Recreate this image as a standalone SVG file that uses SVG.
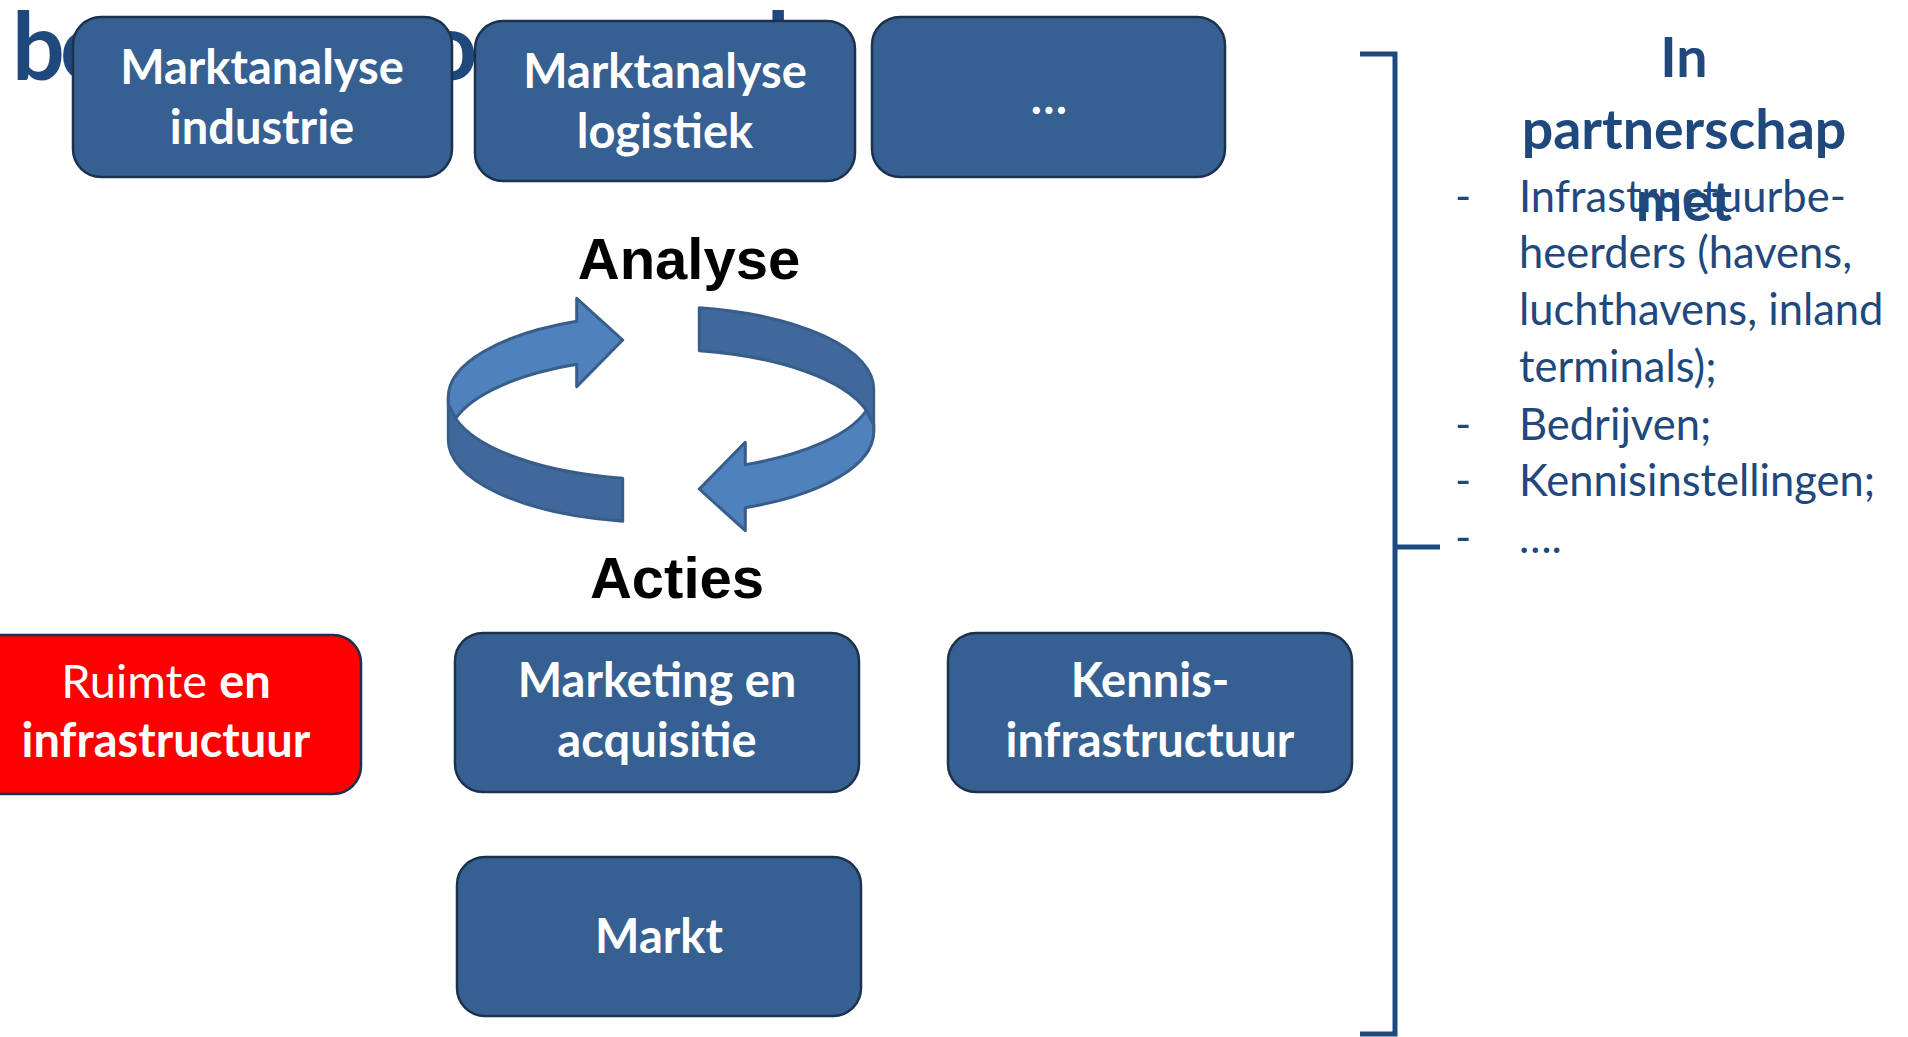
<svg xmlns="http://www.w3.org/2000/svg" width="1908" height="1037" viewBox="0 0 1908 1037">
<defs>
<style>
.box{fill:#376092;stroke:#1B314D;stroke-width:2.5}
.red{fill:#FF0000;stroke:#1B314D;stroke-width:2.5}
.bt{font-family:Lato,"Liberation Sans",sans-serif;font-weight:bold;font-size:47px;fill:#FFFFFF;text-anchor:middle}
.title{font-family:Lato,"Liberation Sans",sans-serif;font-weight:bold;font-size:93px;fill:#1F497D}
.lbl{font-family:"Liberation Sans",Arial,sans-serif;font-weight:bold;font-size:58px;fill:#000000;text-anchor:middle}
.rh{font-family:Lato,"Liberation Sans",sans-serif;font-weight:bold;font-size:55.5px;fill:#1F497D;text-anchor:middle}
.rt{font-family:Lato,"Liberation Sans",sans-serif;font-size:43.5px;fill:#1F497D}
.dark{fill:#41689A;stroke:#385D8A;stroke-width:3;stroke-linejoin:round}
.light{fill:#4F81BD;stroke:#385D8A;stroke-width:3;stroke-linejoin:round}
.br{fill:none;stroke:#1F497D;stroke-width:5}
</style>
</defs>
<rect width="1908" height="1037" fill="#FFFFFF"/>
<text class="title" x="12" y="80">b<tspan x="60" letter-spacing="-26">ouwstenen </tspan><tspan x="323">voor </tspan><tspan x="520">aanpak</tspan></text>
<g id="node-marktanalyse-industrie">
<rect class="box" x="73" y="17" width="379" height="160" rx="28"/>
<text class="bt" x="262" y="84">Marktanalyse</text>
<text class="bt" x="262" y="144">industrie</text>
</g>
<g id="node-marktanalyse-logistiek">
<rect class="box" x="475" y="21" width="380" height="160" rx="28"/>
<text class="bt" x="665" y="88">Marktanalyse</text>
<text class="bt" x="665" y="148">logistiek</text>
</g>
<g id="node-overig">
<rect class="box" x="872" y="17" width="353" height="160" rx="28"/>
<text class="bt" x="1049" y="114">…</text>
</g>
<g id="node-analyse">
<text class="lbl" x="689" y="279">Analyse</text>
</g>
<g id="connectors">
<g id="arrow-left">
<path class="dark" d="M455.6,418.5 A212.7,82.5 0 0 0 622.7,478.2 L622.7,521.2 A212.7,82.5 0 0 1 448.3,440 L448.3,397 Z"/>
<path class="light" d="M448.3,397 A212.7,82.5 0 0 1 576.7,321.3 L576.7,298.3 L622.7,340 L576.7,386.7 L576.7,364.3 A212.7,82.5 0 0 0 455.6,418.5 L448.3,404 Z"/>
</g>
<g id="arrow-right" transform="rotate(180 661 414.5)">
<path class="dark" d="M455.6,418.5 A212.7,82.5 0 0 0 622.7,478.2 L622.7,521.2 A212.7,82.5 0 0 1 448.3,440 L448.3,397 Z"/>
<path class="light" d="M448.3,397 A212.7,82.5 0 0 1 576.7,321.3 L576.7,298.3 L622.7,340 L576.7,386.7 L576.7,364.3 A212.7,82.5 0 0 0 455.6,418.5 L448.3,404 Z"/>
</g>
<path id="bracket" class="br" d="M1360,54 H1395 V1034 H1360 M1395,547 H1440"/>
</g>
<g id="node-acties">
<text class="lbl" x="677" y="598">Acties</text>
</g>
<g id="node-ruimte">
<rect class="red" x="-29" y="635" width="390" height="159" rx="28"/>
<text class="bt" x="166" y="698"><tspan font-weight="normal">Ruimte </tspan>en</text>
<text class="bt" x="166" y="757">infrastructuur</text>
</g>
<g id="node-marketing">
<rect class="box" x="455" y="633" width="404" height="159" rx="28"/>
<text class="bt" x="657" y="697">Marketing en</text>
<text class="bt" x="657" y="757">acquisitie</text>
</g>
<g id="node-kennis">
<rect class="box" x="948" y="633" width="404" height="159" rx="28"/>
<text class="bt" x="1150" y="697">Kennis-</text>
<text class="bt" x="1150" y="757">infrastructuur</text>
</g>
<g id="node-markt">
<rect class="box" x="457" y="857" width="404" height="159" rx="28"/>
<text class="bt" x="659" y="953">Markt</text>
</g>
<g id="node-partners">
<text class="rt" x="1455" y="212">-</text>
<text class="rt" x="1519" y="212">Infrastructuurbe-</text>
<text class="rt" x="1519" y="268">heerders (havens,</text>
<text class="rt" x="1519" y="325">luchthavens, inland</text>
<text class="rt" x="1519" y="382">terminals);</text>
<text class="rt" x="1455" y="440">-</text>
<text class="rt" x="1519" y="440">Bedrijven;</text>
<text class="rt" x="1455" y="496">-</text>
<text class="rt" x="1519" y="496">Kennisinstellingen;</text>
<text class="rt" x="1455" y="553">-</text>
<text class="rt" x="1519" y="553">….</text>
<text class="rh" x="1684" y="77">In</text>
<text class="rh" x="1684" y="149">partnerschap</text>
<text class="rh" x="1684" y="221">met</text>
</g>
</svg>
